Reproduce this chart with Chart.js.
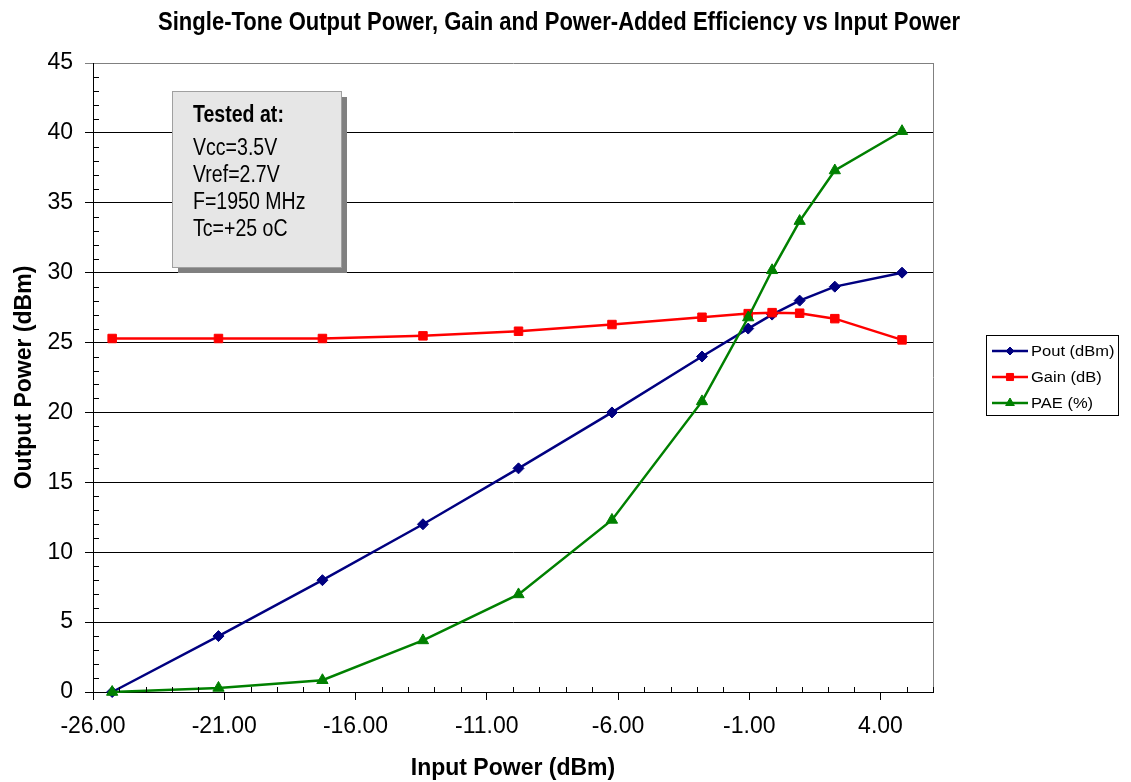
<!DOCTYPE html>
<html>
<head>
<meta charset="utf-8">
<title>Single-Tone Output Power, Gain and PAE vs Input Power</title>
<script src="https://cdn.jsdelivr.net/npm/chart.js@4.4.1/dist/chart.umd.min.js"></script>
<style>
  html, body { margin: 0; padding: 0; background: #fff; }
  canvas { display: block; }
</style>
</head>
<body>
<canvas id="chartPotencia" width="1131" height="782"></canvas>
<script>
/* global Chart */

// valores
const inputPower = [-25.27, -21.22, -17.26, -13.43, -9.79, -6.23, -2.8, -1.04, -0.13, 0.92, 2.26, 4.82]
const poutValues = [0, 4, 8, 12, 16, 20, 24, 26, 27, 28, 29, 30]
const gainValues = [25.29, 25.29, 25.29, 25.48, 25.81, 26.29, 26.81, 27.07, 27.14, 27.1, 26.71, 25.19]
const paeValues = [0, 0.29, 0.84, 3.69, 6.98, 12.31, 20.79, 26.79, 30.17, 33.69, 37.31, 40.12]

const xTicks = [-26, -21, -16, -11, -6, -1, 4]
const seriesLabels = ['Pout (dBm)', 'Gain (dB)', 'PAE (%)']
const testConditions = ['Vcc=3.5V', 'Vref=2.7V', 'F=1950 MHz', 'Tc=+25 oC']

const chartTitle = 'Single-Tone Output Power, Gain and Power-Added Efficiency vs Input Power'
const FONT = "'Liberation Sans', Arial, sans-serif"

const NAVY = '#000080'
const RED = '#ff0000'
const GREEN = '#008000'

function toPoints (values) {
  return inputPower.map((x, i) => ({ x, y: values[i] }))
}

function drawText (ctx, text, x, y, font, align, sx) {
  ctx.save()
  ctx.font = font
  ctx.fillStyle = '#000'
  ctx.textAlign = align
  ctx.textBaseline = 'alphabetic'
  ctx.translate(x, y)
  ctx.scale(sx, 1)
  ctx.fillText(text, 0, 0)
  ctx.restore()
}

function drawMarker (ctx, style, radius, color, x, y) {
  ctx.save()
  ctx.fillStyle = color
  ctx.strokeStyle = color
  ctx.lineWidth = 1
  Chart.helpers.drawPoint(ctx, { pointStyle: style, radius, rotation: 0, borderWidth: 1 }, x, y)
  ctx.restore()
}

const decorPlugin = {
  id: 'decor',
  afterDraw (chart) {
    const { ctx, chartArea, scales } = chart
    const xs = scales.x
    const ys = scales.y

    // titulo
    ctx.save()
    ctx.font = `bold 26px ${FONT}`
    const w = ctx.measureText(chartTitle).width
    ctx.restore()
    drawText(ctx, chartTitle, 559, 29.5, `bold 26px ${FONT}`, 'center', 802 / w)

    // borde derecho
    ctx.save()
    ctx.strokeStyle = '#808080'
    ctx.lineWidth = 1
    ctx.beginPath()
    ctx.moveTo(Math.round(chartArea.right) + 0.5, chartArea.top)
    ctx.lineTo(Math.round(chartArea.right) + 0.5, chartArea.bottom)
    ctx.stroke()

    // marcas menores
    ctx.strokeStyle = '#000'
    ctx.beginPath()
    for (let v = xs.min; v <= xs.max; v++) {
      if (xTicks.includes(v)) continue
      const px = Math.round(xs.getPixelForValue(v)) + 0.5
      ctx.moveTo(px, chartArea.bottom)
      ctx.lineTo(px, chartArea.bottom - 5)
    }
    for (let v = ys.min; v <= ys.max; v++) {
      if (v % 5 === 0) continue
      const py = Math.round(ys.getPixelForValue(v)) + 0.5
      ctx.moveTo(chartArea.left, py)
      ctx.lineTo(chartArea.left + 6, py)
    }
    ctx.stroke()

    // cuadro de condiciones
    ctx.fillStyle = '#808080'
    ctx.fillRect(178, 97, 169, 176)
    ctx.fillStyle = '#e6e6e6'
    ctx.fillRect(173, 92, 169, 176)
    ctx.strokeStyle = '#a0a0a0'
    ctx.strokeRect(172.5, 91.5, 169, 176)
    ctx.restore()

    drawText(ctx, 'Tested at:', 193, 122, `bold 23px ${FONT}`, 'left', 0.85)
    const baselines = [155, 182, 209, 236]
    testConditions.forEach((t, i) => {
      drawText(ctx, t, 193, baselines[i], `23px ${FONT}`, 'left', 0.85)
    })

    // leyenda
    ctx.save()
    ctx.fillStyle = '#fff'
    ctx.fillRect(987, 336, 132, 80)
    ctx.strokeStyle = '#000'
    ctx.lineWidth = 1
    ctx.strokeRect(986.5, 335.5, 132, 80)
    ctx.restore()

    const legendY = [351, 377, 403]
    const legendColors = [NAVY, RED, GREEN]
    const legendStyles = ['rectRot', 'rect', 'triangle']
    const legendRadius = [4, 5, 5]
    seriesLabels.forEach((label, i) => {
      const y = legendY[i]
      ctx.save()
      ctx.strokeStyle = legendColors[i]
      ctx.lineWidth = 2.5
      ctx.beginPath()
      ctx.moveTo(992, y)
      ctx.lineTo(1028, y)
      ctx.stroke()
      ctx.restore()
      drawMarker(ctx, legendStyles[i], legendRadius[i], legendColors[i], 1010, y)
      drawText(ctx, label, 1031, y + 5, `14px ${FONT}`, 'left', 1.18)
    })
  }
}

function buildDataset (label, values, color, style, radius, order) {
  return {
    label,
    data: toPoints(values),
    borderColor: color,
    backgroundColor: color,
    borderWidth: 2.5,
    pointStyle: style,
    pointRadius: radius,
    pointBorderWidth: 1,
    pointBackgroundColor: color,
    pointBorderColor: color,
    tension: 0,
    clip: false,
    order
  }
}

const ctx = document.getElementById('chartPotencia').getContext('2d')
const chart = new Chart(ctx, {
  type: 'line',
  data: {
    datasets: [
      buildDataset(seriesLabels[0], poutValues, NAVY, 'rectRot', 5.5, 2),
      buildDataset(seriesLabels[1], gainValues, RED, 'rect', 6, 1),
      buildDataset(seriesLabels[2], paeValues, GREEN, 'triangle', 6.5, 0)
    ]
  },
  options: {
    responsive: false,
    animation: false,
    events: [],
    layout: {
      padding: { top: 63, right: 198, bottom: 0, left: 0 }
    },
    plugins: {
      legend: { display: false },
      title: { display: false },
      tooltip: { enabled: false }
    },
    scales: {
      x: {
        type: 'linear',
        min: -26,
        max: 6,
        afterBuildTicks: (scale) => {
          scale.ticks = xTicks.map((v) => ({ value: v }))
        },
        afterFit: (scale) => {
          scale.height = 90
        },
        ticks: {
          autoSkip: false,
          maxRotation: 0,
          padding: 13,
          color: '#000',
          font: { family: FONT, size: 23 },
          callback: (value) => Number(value).toFixed(2)
        },
        grid: {
          drawOnChartArea: false,
          drawTicks: true,
          tickLength: 8,
          color: '#000'
        },
        border: { display: true, color: '#000', width: 1 },
        title: {
          display: true,
          text: 'Input Power (dBm)',
          color: '#000',
          font: { family: FONT, size: 23, weight: 'bold' },
          padding: { top: 0, bottom: 0 }
        }
      },
      y: {
        min: 0,
        max: 45,
        afterFit: (scale) => {
          scale.width = 93
        },
        ticks: {
          stepSize: 5,
          padding: 12,
          color: '#000',
          font: { family: FONT, size: 23 }
        },
        grid: {
          drawTicks: true,
          tickLength: 8,
          color: (c) => (c.tick && c.tick.value === 45 ? '#808080' : '#000')
        },
        border: { display: true, color: '#000', width: 1 },
        title: {
          display: true,
          text: 'Output Power (dBm)',
          color: '#000',
          font: { family: FONT, size: 23, weight: 'bold' },
          padding: { top: 11, bottom: 0 }
        }
      }
    }
  },
  plugins: [decorPlugin]
})
</script>
</body>
</html>
